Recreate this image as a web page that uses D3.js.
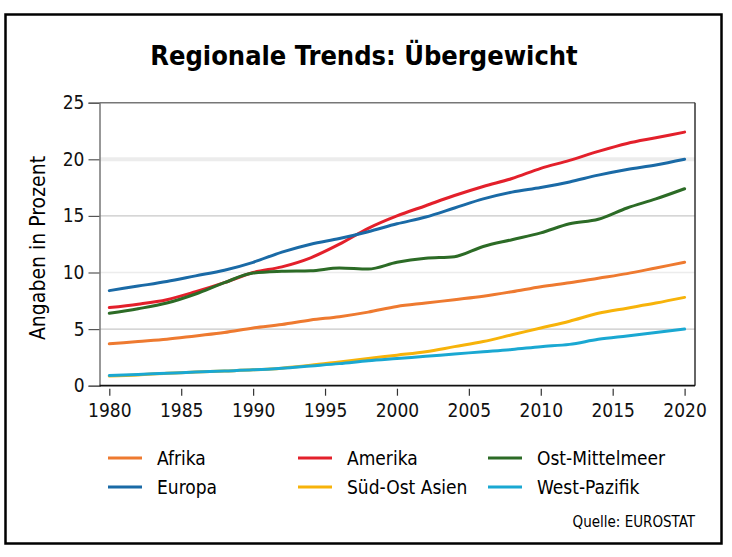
<!DOCTYPE html>
<html>
<head>
<meta charset="utf-8">
<script src="https://cdn.jsdelivr.net/npm/d3@7"></script>
<style>
  body { margin: 0; background: #fff; }
  svg text { font-family: "Liberation Sans Narrow", "DejaVu Sans Condensed", "Open Sans", sans-serif; }
</style>
</head>
<body>
<div id="chart"></div>
<script>
// Jahre und Werte (Prozent)
var jahre = [1980, 1982, 1984, 1986, 1988, 1990, 1992, 1994, 1996, 1998, 2000,
             2002, 2004, 2006, 2008, 2010, 2012, 2014, 2016, 2018, 2020];

var afrika        = [3.7, 3.9, 4.1, 4.4, 4.7, 5.1, 5.4, 5.8, 6.1, 6.5, 7.0, 7.3, 7.6, 7.9, 8.3, 8.75, 9.1, 9.5, 9.9, 10.4, 10.9];
var amerika       = [6.9, 7.2, 7.6, 8.3, 9.1, 10.0, 10.5, 11.3, 12.5, 13.9, 15.0, 15.9, 16.8, 17.6, 18.3, 19.2, 19.9, 20.7, 21.4, 21.9, 22.4];
var ostMittelmeer = [6.4, 6.8, 7.3, 8.1, 9.1, 9.95, 10.1, 10.15, 10.4, 10.3, 10.9, 11.25, 11.4, 12.3, 12.9, 13.5, 14.3, 14.7, 15.7, 16.5, 17.4];
var europa        = [8.4, 8.8, 9.2, 9.7, 10.2, 10.9, 11.8, 12.5, 13.0, 13.6, 14.3, 14.9, 15.7, 16.5, 17.1, 17.5, 18.0, 18.6, 19.1, 19.5, 20.0];
var suedOstAsien  = [0.85, 0.95, 1.1, 1.2, 1.3, 1.4, 1.55, 1.8, 2.1, 2.4, 2.7, 3.0, 3.45, 3.9, 4.5, 5.1, 5.7, 6.4, 6.85, 7.3, 7.8];
var westPazifik   = [0.9, 1.0, 1.1, 1.2, 1.3, 1.4, 1.55, 1.75, 1.95, 2.2, 2.4, 2.6, 2.8, 3.0, 3.2, 3.45, 3.65, 4.1, 4.4, 4.7, 5.0];

var xTicks = [1980, 1985, 1990, 1995, 2000, 2005, 2010, 2015, 2020];
var yTicks = [0, 5, 10, 15, 20, 25];

var serien = [
    { name: "Afrika", werte: afrika, farbe: "#ee7a30" },
    { name: "Amerika", werte: amerika, farbe: "#e3202b" },
    { name: "Ost-Mittelmeer", werte: ostMittelmeer, farbe: "#2c6b26" },
    { name: "Europa", werte: europa, farbe: "#1a6aa6" },
    { name: "Süd-Ost Asien", werte: suedOstAsien, farbe: "#f7b30a" },
    { name: "West-Pazifik", werte: westPazifik, farbe: "#1aa8d2" }
];

var width = 732, height = 557;

var svg = d3.select("#chart")
    .append("svg")
    .attr("width", width)
    .attr("height", height);

// Rahmen
svg.append("rect")
    .attr("x", 5.5).attr("y", 14.5)
    .attr("width", 716).attr("height", 529)
    .attr("fill", "#fff")
    .attr("stroke", "#000")
    .attr("stroke-width", 2.5);

svg.append("text")
    .attr("x", 364).attr("y", 65)
    .attr("text-anchor", "middle")
    .attr("font-size", 27)
    .attr("font-weight", "bold")
    .text("Regionale Trends: Übergewicht");

var x = d3.scaleLinear()
    .domain([1980, 2020])
    .range([109.3, 684.6]);

var y = d3.scaleLinear()
    .domain([0, 25])
    .range([385.7, 102.7]);

var left = 99.5, right = 695;

// Gitterlinien
svg.append("g")
    .selectAll("line")
    .data(yTicks.filter(function(d) { return d > 0 && d < 25; }))
    .enter().append("line")
    .attr("x1", left).attr("x2", right)
    .attr("y1", function(d) { return y(d); })
    .attr("y2", function(d) { return y(d); })
    .attr("stroke", function(d) { return d == 5 || d == 15 ? "#c8c8c8" : "#ececec"; })
    .attr("stroke-width", function(d) { return d == 20 ? 4 : 1.3; });

// Rand oben / rechts
svg.append("line").attr("x1", left).attr("x2", right).attr("y1", y(25)).attr("y2", y(25))
    .attr("stroke", "#777").attr("stroke-width", 1.5);
svg.append("line").attr("x1", right).attr("x2", right).attr("y1", y(25)).attr("y2", y(0))
    .attr("stroke", "#333").attr("stroke-width", 1.5);

var yAxis = d3.axisLeft(y)
    .tickValues(yTicks)
    .tickSize(11)
    .tickPadding(4)
    .tickFormat(d3.format("d"));

var gy = svg.append("g")
    .attr("transform", "translate(" + left + ",0)")
    .call(yAxis);
gy.select(".domain").attr("stroke", "#777").attr("stroke-width", 1.5);
gy.selectAll(".tick line").attr("stroke", "#555").attr("stroke-width", 1.2);
gy.selectAll(".tick text").attr("font-size", 19).attr("fill", "#111")
    .attr("font-family", "'Liberation Sans Narrow', 'DejaVu Sans Condensed', sans-serif");

var xAxis = d3.axisBottom(x)
    .tickValues(xTicks)
    .tickSize(0)
    .tickFormat(d3.format("d"));

var gx = svg.append("g")
    .attr("transform", "translate(0," + y(0) + ")")
    .call(xAxis);
gx.select(".domain").attr("d", "M" + left + ",0H" + right).attr("stroke", "#111").attr("stroke-width", 1.8);
gx.selectAll(".tick").append("line")
    .attr("y1", 3).attr("y2", 10)
    .attr("stroke", "#333").attr("stroke-width", 1.2);
gx.selectAll(".tick text").attr("y", 18).attr("font-size", 19).attr("fill", "#111")
    .attr("font-family", "'Liberation Sans Narrow', 'DejaVu Sans Condensed', sans-serif");

svg.append("text")
    .attr("transform", "translate(45,248) rotate(-90)")
    .attr("text-anchor", "middle")
    .attr("font-size", 21)
    .text("Angaben in Prozent");

var line = d3.line()
    .x(function(d, i) { return x(jahre[i]); })
    .y(function(d) { return y(d); })
    .curve(d3.curveMonotoneX);

// Zeichenreihenfolge: gelb, türkis, orange, rot, grün, blau
var reihenfolge = [4, 5, 0, 1, 2, 3];
svg.append("g")
    .selectAll("path")
    .data(reihenfolge.map(function(i) { return serien[i]; }))
    .enter().append("path")
    .attr("d", function(d) { return line(d.werte); })
    .attr("fill", "none")
    .attr("stroke", function(d) { return d.farbe; })
    .attr("stroke-width", 3)
    .attr("stroke-linecap", "round");

// Legende
var spalten = [108, 298, 488];
var zeilen = [458, 487];
var legende = svg.append("g")
    .selectAll("g")
    .data(serien)
    .enter().append("g")
    .attr("transform", function(d, i) {
        return "translate(" + spalten[i % 3] + "," + zeilen[Math.floor(i / 3)] + ")";
    });
legende.append("line")
    .attr("x1", 0).attr("x2", 34)
    .attr("stroke", function(d) { return d.farbe; })
    .attr("stroke-width", 3);
legende.append("text")
    .attr("x", 49).attr("y", 7)
    .attr("font-size", 19)
    .text(function(d) { return d.name; });

svg.append("text")
    .attr("x", 695).attr("y", 527)
    .attr("text-anchor", "end")
    .attr("font-size", 15)
    .text("Quelle: EUROSTAT");
</script>
</body>
</html>
